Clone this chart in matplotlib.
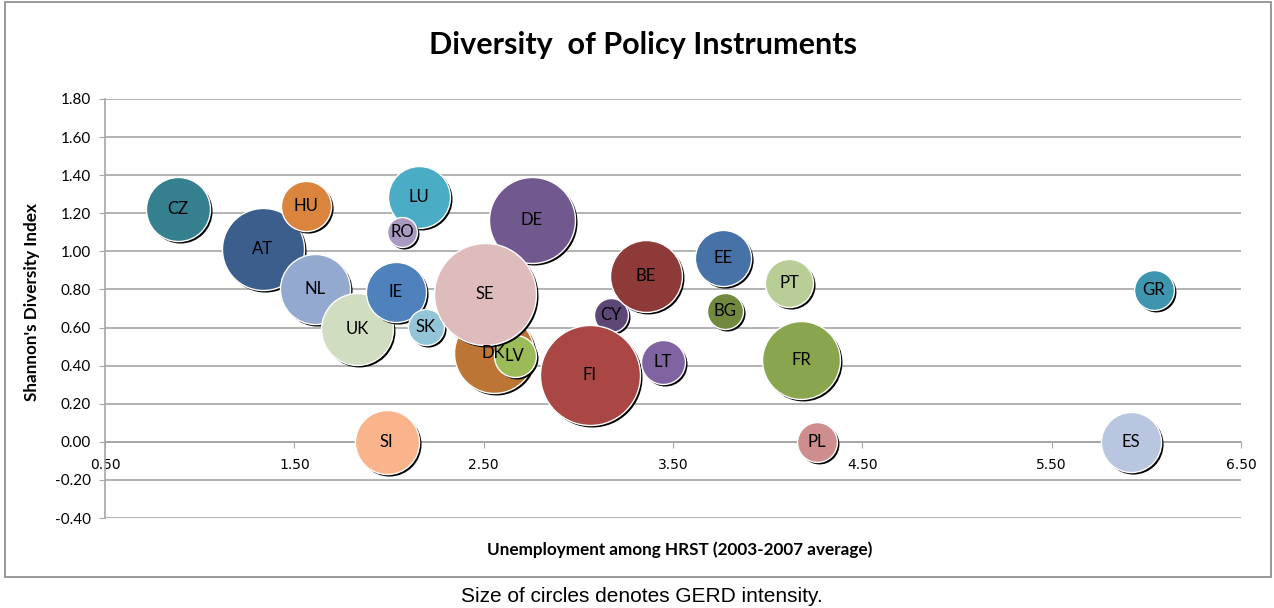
import matplotlib
matplotlib.use("Agg")
import matplotlib.pyplot as plt
import matplotlib.transforms as mtransforms
from matplotlib.patches import Rectangle

# ---- data (drawing order = bottom to top) ----
countries = ["CZ", "AT", "HU", "LU", "RO", "DE", "DK", "NL", "UK", "IE", "SK", "LV",
             "SE", "CY", "FI", "BE", "LT", "EE", "BG", "PT", "FR", "PL", "ES", "GR", "SI"]
unemployment = [0.885, 1.334, 1.56, 2.157, 2.07, 2.753, 2.553, 1.608, 1.83, 2.036, 2.194, 2.664,
                2.505, 3.17, 3.06, 3.355, 3.445, 3.766, 3.777, 4.115, 4.178, 4.26, 5.92, 6.04, 1.988]
diversity = [1.22, 1.01, 1.24, 1.285, 1.10, 1.165, 0.465, 0.80, 0.593, 0.787, 0.603, 0.451,
             0.776, 0.666, 0.351, 0.871, 0.419, 0.965, 0.687, 0.834, 0.43, 0.0, 0.0, 0.797, 0.0]
gerd = [1.42, 2.33, 0.87, 1.33, 0.31, 2.56, 2.21, 1.70, 1.79, 1.25, 0.45, 0.61,
        3.60, 0.40, 3.46, 1.79, 0.67, 1.09, 0.45, 0.80, 2.10, 0.55, 1.25, 0.55, 1.42]
colors = ["#35808F", "#3B5E8C", "#DB843D", "#4BACC6", "#A89AC0", "#71588F", "#BC7534", "#93A9CF",
          "#D1DDC0", "#4F81BD", "#93C4D8", "#9BBB59", "#DFBCBC", "#5C4776", "#AA4643", "#8E3A38",
          "#8064A2", "#4672A8", "#71893F", "#B9CD96", "#89A54E", "#CE8E8D", "#B9C6E0", "#3D96AE",
          "#F9B48C"]

x_ticks = [0.5, 1.5, 2.5, 3.5, 4.5, 5.5, 6.5]
y_ticks = [-0.4, -0.2, 0.0, 0.2, 0.4, 0.6, 0.8, 1.0, 1.2, 1.4, 1.6, 1.8]

title = "Diversity  of Policy Instruments"
xlabel = "Unemployment among HRST (2003-2007 average)"
ylabel = "Shannon's Diversity Index"
caption = "Size of circles denotes GERD intensity."

FONT = ["Lato", "DejaVu Sans"]
SIZE_SCALE = 1498.0

fig = plt.figure(figsize=(12.74, 6.08), dpi=100)
ax = fig.add_axes([105 / 1274, 1 - 518 / 608, (1241 - 105) / 1274, (518 - 99) / 608])

ax.set_xlim(0.5, 6.5)
ax.set_ylim(-0.4, 1.8)
ax.set_xticks(x_ticks)
ax.set_yticks(y_ticks)
ax.set_xticklabels([f"{v:.2f}" for v in x_ticks], family=FONT, fontsize=11)
ax.set_yticklabels([f"{v:.2f}" for v in y_ticks], family=FONT, fontsize=11)

gc = "#A6A6A6"
ax.grid(axis="y", color=gc, linewidth=1.2, zorder=0)
ax.set_axisbelow(True)
for s in ["top", "right"]:
    ax.spines[s].set_visible(False)
ax.spines["bottom"].set_position(("data", 0))
ax.spines["bottom"].set_color(gc)
ax.spines["left"].set_color(gc)
ax.spines["bottom"].set_linewidth(1.2)
ax.spines["left"].set_linewidth(1.2)
ax.tick_params(axis="x", direction="out", length=4, color=gc, pad=8)
ax.tick_params(axis="y", direction="out", length=4, color=gc, pad=6)

shadow_tr = mtransforms.offset_copy(ax.transData, fig=fig, x=2, y=-2, units="dots")
for i, (c, xv, yv, g, col) in enumerate(zip(countries, unemployment, diversity, gerd, colors)):
    z = 3 + i * 2
    ax.scatter([xv], [yv], s=[g * SIZE_SCALE], color="black", transform=shadow_tr,
               linewidths=0, zorder=z, clip_on=False)
    ax.scatter([xv], [yv], s=[g * SIZE_SCALE], color=col, edgecolors="white",
               linewidths=1.0, zorder=z + 1, clip_on=False)
for c, xv, yv in zip(countries, unemployment, diversity):
    ax.text(xv, yv, c, ha="center", va="center", family=FONT, fontsize=12,
            color="black", zorder=200)

fig.text(643 / 1274, 1 - 45 / 608, title, ha="center", va="center", family=FONT,
         fontsize=22, fontweight="bold")
fig.text(680 / 1274, 1 - 550 / 608, xlabel, ha="center", va="center", family=FONT,
         fontsize=12.3, fontweight="bold")
fig.text(32 / 1274, 1 - 302 / 608, ylabel, ha="center", va="center", rotation=90,
         family=FONT, fontsize=12.3, fontweight="bold")
fig.text(642 / 1274, 1 - 597 / 608, caption, ha="center", va="center",
         family=["Liberation Sans", "DejaVu Sans"], fontsize=15)

fig.patches.append(Rectangle((5 / 1274, 1 - 577 / 608), (1271 - 5) / 1274, (577 - 2) / 608,
                             transform=fig.transFigure, fill=False, edgecolor="#888888",
                             linewidth=1.2))

fig.savefig("out.png", dpi=100)
